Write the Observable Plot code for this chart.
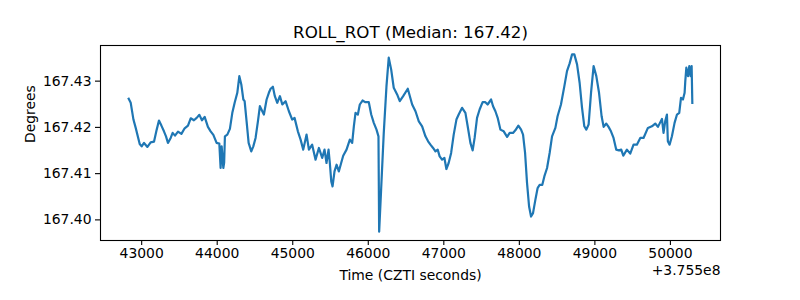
<!DOCTYPE html>
<html>
<head>
<meta charset="utf-8">
<script src="https://cdn.jsdelivr.net/npm/d3@7"></script>
<script src="https://cdn.jsdelivr.net/npm/@observablehq/plot@0.6"></script>
<style>
  html, body { margin: 0; padding: 0; background: #fff; }
  #chart { width: 800px; height: 300px; }
</style>
</head>
<body>
<div id="chart"></div>
<script>
const title = "ROLL_ROT (Median: 167.42)";
const xLabel = "Time (CZTI seconds)";
const yLabel = "Degrees";
const xOffsetText = "+3.755e8";
const xTicks = [43000, 44000, 45000, 46000, 47000, 48000, 49000, 50000];
const yTicks = [167.40, 167.41, 167.42, 167.43];

// time offset from 3.755e8 (CZTI seconds)
const times = [
  42828, 42855, 42891, 42921, 42974, 43000, 43031, 43076, 43119, 43163,
  43199, 43229, 43261, 43295, 43322, 43348, 43384, 43410, 43441, 43481,
  43526, 43569, 43613, 43649, 43692, 43728, 43764, 43798, 43834, 43877,
  43913, 43949, 43992, 44028, 44045, 44059, 44081, 44092, 44102, 44134,
  44168, 44200, 44231, 44266, 44293, 44319, 44346, 44363, 44389, 44416,
  44451, 44478, 44508, 44539, 44565, 44597, 44618, 44654, 44684, 44707,
  44737, 44763, 44795, 44830, 44862, 44905, 44949, 44993, 45024, 45068,
  45104, 45139, 45183, 45214, 45257, 45302, 45346, 45390, 45421, 45447,
  45474, 45491, 45510, 45527, 45553, 45580, 45610, 45641, 45668, 45712,
  45756, 45787, 45809, 45831, 45862, 45888, 45924, 45959, 46007, 46039,
  46073, 46109, 46135, 46144, 46170, 46205, 46241, 46271, 46303, 46337,
  46382, 46417, 46462, 46523, 46581, 46625, 46669, 46713, 46757, 46792,
  46823, 46858, 46889, 46919, 46945, 46977, 47008, 47034, 47064, 47097,
  47131, 47167, 47197, 47242, 47286, 47316, 47352, 47382, 47408, 47440,
  47474, 47514, 47550, 47580, 47626, 47652, 47683, 47713, 47749, 47793,
  47838, 47872, 47916, 47947, 47987, 48023, 48049, 48076, 48102, 48129,
  48155, 48181, 48212, 48242, 48269, 48304, 48331, 48367, 48401, 48433,
  48477, 48506, 48551, 48596, 48631, 48666, 48698, 48728, 48764, 48798,
  48830, 48860, 48887, 48917, 48949, 48983, 49019, 49055, 49089, 49116,
  49151, 49181, 49213, 49247, 49283, 49318, 49349, 49376, 49424, 49468,
  49512, 49556, 49601, 49644, 49702, 49755, 49799, 49835, 49888, 49909,
  49931, 49954, 49966, 49989, 50020, 50055, 50087, 50117, 50140, 50166,
  50188, 50197, 50211, 50233, 50250, 50267, 50281, 50290
];

// ROLL_ROT in degrees
const values = [
  167.42618, 167.42531, 167.42169, 167.41989, 167.41642, 167.41590, 167.41664, 167.41577, 167.41677, 167.41692,
  167.41952, 167.42148, 167.42039, 167.41915, 167.41807, 167.41664, 167.41772, 167.41881, 167.41822, 167.41909,
  167.41859, 167.41981, 167.42039, 167.42197, 167.42154, 167.42206, 167.42271, 167.42154, 167.42228, 167.42011,
  167.41915, 167.41837, 167.41664, 167.41649, 167.41122, 167.41590, 167.41122, 167.41237, 167.41807, 167.41844,
  167.41968, 167.42315, 167.42531, 167.42748, 167.43108, 167.42928, 167.42603, 167.42566, 167.42132, 167.41664,
  167.41482, 167.41590, 167.41772, 167.42132, 167.42458, 167.42349, 167.42278, 167.42603, 167.42748, 167.42835,
  167.42879, 167.42675, 167.42531, 167.42675, 167.42495, 167.42566, 167.42349, 167.42169, 167.42206, 167.41915,
  167.41735, 167.41519, 167.41844, 167.41519, 167.41627, 167.41302, 167.41555, 167.41339, 167.41519, 167.41230,
  167.41519, 167.41230, 167.40831, 167.40723, 167.41048, 167.41193, 167.41048, 167.41230, 167.41388, 167.41519,
  167.41735, 167.41664, 167.42024, 167.42315, 167.42278, 167.42495, 167.42581, 167.42545, 167.42545, 167.42278,
  167.42098, 167.41952, 167.41807, 167.39746, 167.40651, 167.41881, 167.42892, 167.43508, 167.43254, 167.42857,
  167.42712, 167.42566, 167.42675, 167.42835, 167.42495, 167.42349, 167.42132, 167.42024, 167.41807, 167.41699,
  167.41627, 167.41555, 167.41482, 167.41519, 167.41373, 167.41302, 167.41339, 167.41100, 167.41230, 167.41447,
  167.41844, 167.42169, 167.42278, 167.42423, 167.42315, 167.42024, 167.41664, 167.41503, 167.41772, 167.42206,
  167.42386, 167.42545, 167.42545, 167.42495, 167.42603, 167.42458, 167.42349, 167.42206, 167.41952, 167.41915,
  167.41794, 167.41881, 167.41881, 167.41937, 167.42039, 167.41952, 167.41844, 167.41447, 167.40796, 167.40289,
  167.40072, 167.40146, 167.40434, 167.40688, 167.40759, 167.40759, 167.40939, 167.41122, 167.41447, 167.41807,
  167.41989, 167.42241, 167.42495, 167.42892, 167.43217, 167.43384, 167.43579, 167.43579, 167.43362, 167.42965,
  167.42423, 167.42024, 167.41952, 167.42061, 167.42748, 167.43325, 167.43108, 167.42748, 167.42241, 167.42011,
  167.42083, 167.42011, 167.41915, 167.41772, 167.41519, 167.41503, 167.41519, 167.41388, 167.41519, 167.41432,
  167.41627, 167.41627, 167.41772, 167.41772, 167.41989, 167.42024, 167.42083, 167.42011, 167.42184, 167.41881,
  167.42132, 167.42278, 167.41699, 167.41627, 167.41807, 167.42098, 167.42278, 167.42315, 167.42640, 167.42603,
  167.42748, 167.43000, 167.43291, 167.43108, 167.43325, 167.43108, 167.43325, 167.42531
];

const data = times.map((t, i) => ({t, v: values[i]}));

function padded(arr) {
  const [lo, hi] = d3.extent(arr);
  const m = (hi - lo) * 0.05;
  return [lo - m, hi + m];
}

const font = "'DejaVu Sans', sans-serif";

const chart = Plot.plot({
  width: 800,
  height: 300,
  marginLeft: 100,
  marginRight: 80,
  marginTop: 45,
  marginBottom: 60,
  style: { fontFamily: font, fontSize: "13.9px", background: "#fff", color: "#000", overflow: "visible" },
  x: { domain: padded(times) },
  y: { domain: padded(values) },
  marks: [
    Plot.line(data, { x: "t", y: "v", stroke: "#1f77b4", strokeWidth: 2.2, strokeLinejoin: "round", strokeLinecap: "square" }),
    Plot.frame({ stroke: "#000", strokeWidth: 1.1 }),
    Plot.axisX({ ticks: xTicks, tickFormat: d => String(d), tickSize: 5, tickPadding: 3, strokeWidth: 1.1, label: null, fontSize: 13.9 }),
    Plot.axisY({ ticks: yTicks, tickFormat: d => d.toFixed(2), tickSize: 5, tickPadding: 4, strokeWidth: 1.1, label: null, fontSize: 13.9 }),
    Plot.text([title], { frameAnchor: "top", dy: -13, fontSize: 16.7, lineAnchor: "middle", fill: "#000" }),
    Plot.text([xLabel], { frameAnchor: "bottom", dy: 35, fontSize: 13.9, lineAnchor: "middle", fill: "#000" }),
    Plot.text([xOffsetText], { frameAnchor: "bottom-right", textAnchor: "end", dy: 30, fontSize: 13.9, lineAnchor: "middle", fill: "#000" }),
    Plot.text([yLabel], { frameAnchor: "left", rotate: -90, dx: -70, fontSize: 13.9, lineAnchor: "middle", fill: "#000" })
  ]
});

document.getElementById("chart").appendChild(chart);
</script>
</body>
</html>
